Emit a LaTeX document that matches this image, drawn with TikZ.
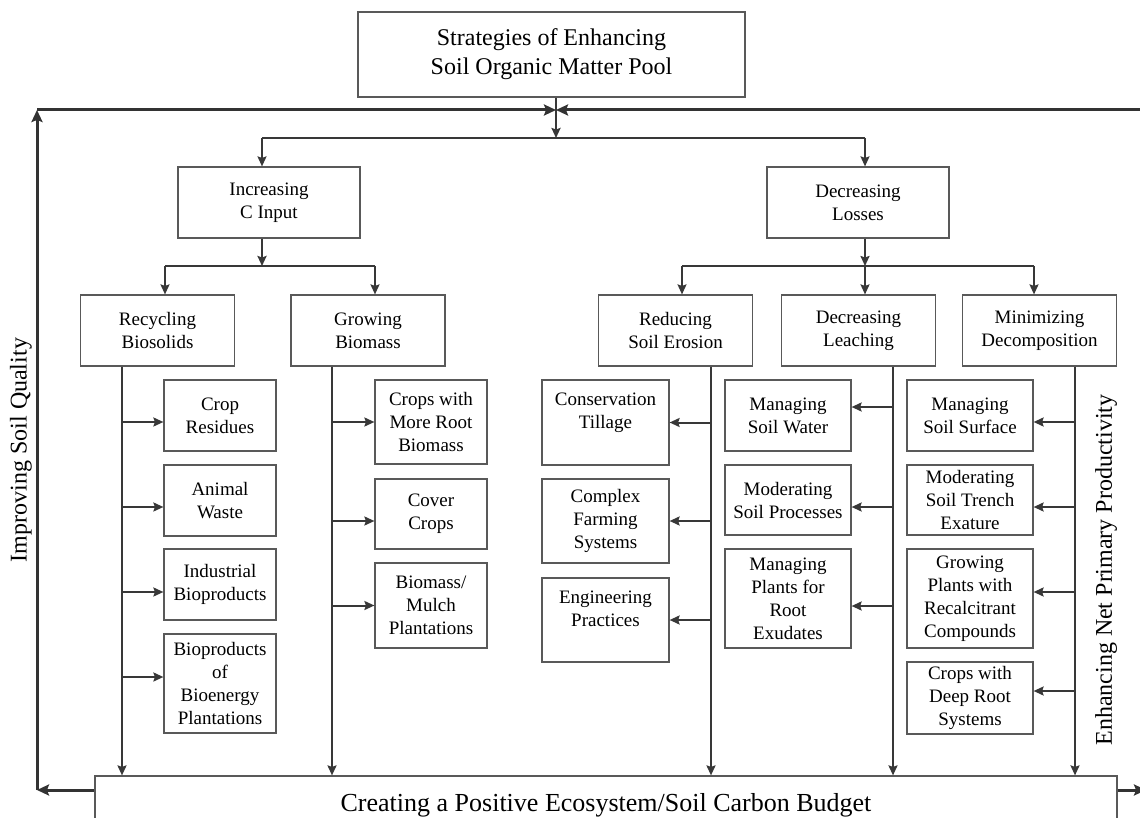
\documentclass[tikz,border=0pt]{standalone}
\usepackage{fontspec}
\setmainfont{Liberation Serif}
\usetikzlibrary{arrows.meta}

\begin{document}
\begin{tikzpicture}[x=1pt, y=-1pt,
	>={Stealth[length=10pt, width=9pt, inset=1.5pt]},
	box/.style={draw=black!65, line width=1.2pt, align=center, inner sep=2pt, font=\fontsize{19}{23}\selectfont},
	wire/.style={draw=black!78, line width=1.6pt},
	trunk/.style={draw=black!78, line width=2.4pt, ->},
	stem/.style={draw=black!78, line width=2pt, ->},
	twig/.style={draw=black!78, line width=2pt, <-},
	ring/.style={draw=black!80, line width=3pt, -{Stealth[length=12pt, width=11pt, inset=2pt]}},
	side/.style={rotate=90, font=\fontsize{24}{29}\selectfont}]
	\useasboundingbox (0,0) rectangle (1140,818);

	\node[box, minimum width=387, minimum height=85, font=\fontsize{24}{29}\selectfont] (0) at (551.5,54.5) {Strategies of Enhancing\\Soil Organic Matter Pool};

	\node[box, minimum width=182, minimum height=71] (1) at (269,202.5)	{Increasing\\C Input};
	\node[box, minimum width=182, minimum height=71] (2) at (858,202.5)	{Decreasing\\Losses};

	\node[box, minimum width=154, minimum height=71] (11) at (157.5,330.5)	{Recycling\\Biosolids};
	\node[box, minimum width=154, minimum height=71] (12) at (368,330.5)	{Growing\\Biomass};
	\node[box, minimum width=154, minimum height=71] (21) at (675.5,330.5)	{Reducing\\Soil Erosion};
	\node[box, minimum width=154, minimum height=71] (22) at (858.5,330.5)	{Decreasing\\Leaching};
	\node[box, minimum width=154, minimum height=71] (23) at (1039.5,330.5)	{Minimizing\\Decomposition};

	\node[box, minimum width=112, minimum height=71] (111) at (220,415.5)	{Crop\\Residues};
	\node[box, minimum width=112, minimum height=71] (112) at (220,500.5)	{Animal\\Waste};
	\node[box, minimum width=112, minimum height=71] (113) at (220,584.5)	{Industrial\\Bioproducts};
	\node[box, minimum width=112, minimum height=99] (114) at (220,683.5)	{Bioproducts\\of\\Bioenergy\\Plantations};

	\node[box, minimum width=112, minimum height=84] (121) at (431,422)		{Crops with\\More Root\\Biomass};
	\node[box, minimum width=112, minimum height=70] (122) at (431,514)		{Cover\\Crops};
	\node[box, minimum width=112, minimum height=85] (123) at (431,605.5)	{Biomass/\\Mulch\\Plantations};

	\node[box, minimum width=127, minimum height=85] (211) at (605.5,422.5)	{Conservation\\Tillage\\\mbox{}};
	\node[box, minimum width=127, minimum height=84] (212) at (605.5,521)	{Complex\\Farming\\Systems};
	\node[box, minimum width=127, minimum height=84] (213) at (605.5,620)	{Engineering\\Practices\\\mbox{}};

	\node[box, minimum width=126, minimum height=71] (221) at (788,415.5)	{Managing\\Soil Water};
	\node[box, minimum width=126, minimum height=70] (222) at (788,500)		{Moderating\\Soil Processes};
	\node[box, minimum width=126, minimum height=99] (223) at (788,598.5)	{Managing\\Plants for\\Root\\Exudates};

	\node[box, minimum width=126, minimum height=71] (231) at (970,415.5)	{Managing\\Soil Surface};
	\node[box, minimum width=126, minimum height=70] (232) at (970,500)		{Moderating\\Soil Trench\\Exature};
	\node[box, minimum width=126, minimum height=99] (233) at (970,598.5)	{Growing\\Plants with\\Recalcitrant\\Compounds};
	\node[box, minimum width=126, minimum height=72] (234) at (970,698)		{Crops with\\Deep Root\\Systems};

	\node[box, minimum width=1022, minimum height=58, font=\fontsize{26}{31}\selectfont] (9) at (606,805) {Creating a Positive Ecosystem/Soil Carbon Budget};

	\node[side] (q) at (21,450)		{Improving Soil Quality};
	\node[side] (p) at (1106,570)	{Enhancing Net Primary Productivity};

	\coordinate (m) at (556,110);
	\coordinate (c) at (556,138);
	\coordinate (c1) at (262,138);
	\coordinate (c2) at (865,138);
	\coordinate (d1) at (262,266);
	\coordinate (d11) at (165,266);
	\coordinate (d12) at (375,266);
	\coordinate (d2) at (865,266);
	\coordinate (d21) at (682,266);
	\coordinate (d23) at (1034,266);
	\coordinate (l1) at (37,790);
	\coordinate (l2) at (37,110);
	\coordinate (r1) at (1146,790);
	\coordinate (r2) at (1146,110);
	\coordinate (s1) at (122,0);
	\coordinate (s2) at (332,0);
	\coordinate (s3) at (711,0);
	\coordinate (s4) at (893,0);
	\coordinate (s5) at (1075,0);

	\draw[ring] ([yshift=15]9.west) -- (l1);
	\draw[ring] (l1) -- (l2);
	\draw[ring] (l2) -- (m);
	\draw[ring] ([yshift=15]9.east) -- (r1);
	\draw[ring] (r1) -- (r2);
	\draw[ring] (r2) -- (m);

	\draw[trunk] (0.south -| c) -- (c);
	\draw[wire] (c1) -- (c2);
	\draw[wire, ->] (c1) -- (c1 |- 1.north);
	\draw[wire, ->] (c2) -- (c2 |- 2.north);

	\draw[trunk] (1.south -| d1) -- (d1);
	\draw[wire] (d11) -- (d12);
	\draw[wire, ->] (d11) -- (d11 |- 11.north);
	\draw[wire, ->] (d12) -- (d12 |- 12.north);

	\draw[stem] (2.south -| d2) -- (d2);
	\draw[wire] (d21) -- (d23);
	\draw[wire, ->] (d21) -- (d21 |- 21.north);
	\draw[wire, ->] (d2) -- (d2 |- 22.north);
	\draw[wire, ->] (d23) -- (d23 |- 23.north);

	\draw[stem] (11.south -| s1) -- (9.north -| s1);
	\draw[stem] (12.south -| s2) -- (9.north -| s2);
	\draw[stem] (21.south -| s3) -- (9.north -| s3);
	\draw[stem] (22.south -| s4) -- (9.north -| s4);
	\draw[stem] (23.south -| s5) -- (9.north -| s5);

	\draw[twig] ([yshift=-6.5]111.west) -- +(-42,0);
	\draw[twig] ([yshift=-6.5]112.west) -- +(-42,0);
	\draw[twig] ([yshift=-7.5]113.west) -- +(-42,0);
	\draw[twig] ([yshift=6.5]114.west) -- +(-42,0);

	\draw[twig] (121.west) -- +(-43,0);
	\draw[twig] ([yshift=-7]122.west) -- +(-43,0);
	\draw[twig] (123.west) -- +(-43,0);

	\draw[twig] (211.east) -- +(42,0);
	\draw[twig] (212.east) -- +(42,0);
	\draw[twig] (213.east) -- +(42,0);

	\draw[twig] ([yshift=8.5]221.east) -- +(42,0);
	\draw[twig] ([yshift=-7]222.east) -- +(42,0);
	\draw[twig] ([yshift=-7.5]223.east) -- +(42,0);

	\draw[twig] ([yshift=-6.5]231.east) -- +(42,0);
	\draw[twig] ([yshift=-7]232.east) -- +(42,0);
	\draw[twig] ([yshift=6.5]233.east) -- +(42,0);
	\draw[twig] ([yshift=7]234.east) -- +(42,0);
\end{tikzpicture}
\end{document}
